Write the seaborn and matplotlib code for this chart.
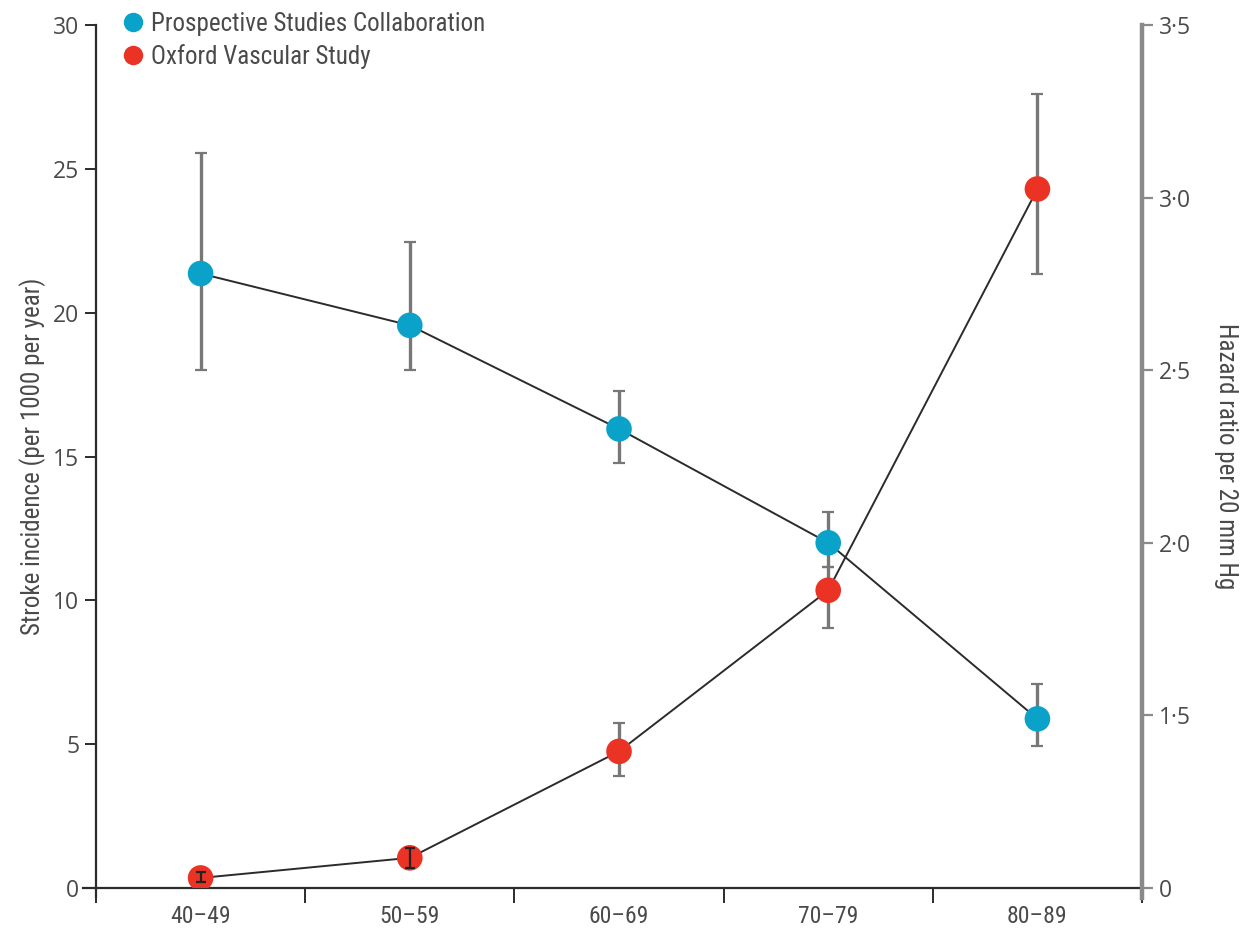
import matplotlib
matplotlib.use("Agg")
import matplotlib.pyplot as plt
from matplotlib import font_manager
from matplotlib.lines import Line2D
import numpy as np
import pandas as pd
import seaborn as sns

# ---- data ----
age_groups = ["40–49", "50–59", "60–69", "70–79", "80–89"]

# Prospective Studies Collaboration: hazard ratio per 20 mm Hg (right axis)
psc_hr = [2.78, 2.63, 2.33, 2.00, 1.49]
psc_lo = [2.50, 2.50, 2.23, 1.93, 1.41]
psc_hi = [3.13, 2.87, 2.44, 2.09, 1.59]

# Oxford Vascular Study: stroke incidence per 1000 per year (left axis)
oxv_inc = [0.35, 1.05, 4.75, 10.35, 24.3]
oxv_lo = [0.20, 0.70, 3.90, 9.05, 21.35]
oxv_hi = [0.57, 1.40, 5.75, 11.15, 27.6]

left_ticks = [0, 5, 10, 15, 20, 25, 30]
right_ticks = [1.0, 1.5, 2.0, 2.5, 3.0, 3.5]
right_tick_labels = ["0", "1·5", "2·0", "2·5", "3·0", "3·5"]

series_names = ["Prospective Studies Collaboration", "Oxford Vascular Study"]

# ---- style ----
sns.set_theme(style="white")


def pick_font(names):
    for n in names:
        try:
            font_manager.findfont(n, fallback_to_default=False)
            return n
        except Exception:
            continue
    return "DejaVu Sans"


narrow = pick_font(["Roboto Condensed", "Liberation Sans Narrow", "Open Sans", "DejaVu Sans"])
wide = pick_font(["Open Sans", "DejaVu Sans"])
plt.rcParams["font.family"] = [narrow, "DejaVu Sans"]

BLUE = "#0aa2c9"
RED = "#ea3324"
LINE = "#2b2b2b"
ERR = "#777777"
TXT = "#4a4a4a"

df_psc = pd.DataFrame({"pos": np.arange(len(age_groups)), "val": psc_hr,
                       "lo": psc_lo, "hi": psc_hi})
df_oxv = pd.DataFrame({"pos": np.arange(len(age_groups)), "val": oxv_inc,
                       "lo": oxv_lo, "hi": oxv_hi})

fig = plt.figure(figsize=(12.4, 9.33), dpi=100)
ax = fig.add_axes([0.0774, 0.0482, 0.8436, 0.9250])
ax2 = ax.twinx()


def draw_errors(a, d, small_limit):
    """Wide intervals sit behind the marker; very short ones are drawn on top."""
    big = d[(d["hi"] - d["lo"]) >= small_limit]
    small = d[(d["hi"] - d["lo"]) < small_limit]
    if len(big):
        a.errorbar(big["pos"], big["val"],
                   yerr=[big["val"] - big["lo"], big["hi"] - big["val"]],
                   fmt="none", ecolor=ERR, elinewidth=2.4, capsize=4,
                   capthick=1.6, zorder=2)
    if len(small):
        a.errorbar(small["pos"], small["val"],
                   yerr=[small["val"] - small["lo"], small["hi"] - small["val"]],
                   fmt="none", ecolor="#222222", elinewidth=1.6, capsize=3.5,
                   capthick=1.6, zorder=5)


# Oxford Vascular Study on the incidence axis
draw_errors(ax, df_oxv, 1.0)
sns.lineplot(data=df_oxv, x="pos", y="val", ax=ax, color=LINE, linewidth=1.4,
             zorder=3, legend=False)
sns.scatterplot(data=df_oxv, x="pos", y="val", ax=ax, color=RED, s=340,
                edgecolor="none", zorder=4, legend=False)

# Prospective Studies Collaboration on the hazard-ratio axis
draw_errors(ax2, df_psc, 0.0)
sns.lineplot(data=df_psc, x="pos", y="val", ax=ax2, color=LINE, linewidth=1.4,
             zorder=3, legend=False)
sns.scatterplot(data=df_psc, x="pos", y="val", ax=ax2, color=BLUE, s=340,
                edgecolor="none", zorder=4, legend=False)

# ---- axes ----
ax.set_xlim(-0.5, len(age_groups) - 0.5)
ax.set_ylim(0, 30)
ax2.set_ylim(1.0, 3.5)

ax.set_yticks(left_ticks)
ax.set_yticklabels([str(t) for t in left_ticks], fontfamily=[wide, "DejaVu Sans"])
ax2.set_yticks(right_ticks)
ax2.set_yticklabels(right_tick_labels, fontfamily=[wide, "DejaVu Sans"])

# age-group labels sit between the boundary ticks
ax.set_xticks(np.arange(-0.5, len(age_groups), 1.0))
ax.set_xticklabels([])
ax.set_xticks(np.arange(len(age_groups)), minor=True)
ax.set_xticklabels(age_groups, minor=True)
ax.tick_params(axis="x", which="minor", length=0, pad=12, labelsize=17, labelcolor=TXT)
ax.tick_params(axis="x", which="major", direction="out", length=11, width=1.4,
               color=LINE, bottom=True)

ax.tick_params(axis="y", direction="out", length=8, width=1.4, color=LINE,
               labelsize=16.5, labelcolor=TXT, pad=4, left=True)
ax2.tick_params(axis="y", direction="out", length=8, width=1.6, color="#8a8a8a",
                labelsize=16.5, labelcolor=TXT, pad=4, right=True)

ax.set_xlabel("")
ax.set_ylabel("Stroke incidence (per 1000 per year)", fontsize=18, color=TXT, labelpad=5)
ax2.set_xlabel("")
ax2.set_ylabel("Hazard ratio per 20 mm Hg", fontsize=18, color=TXT, rotation=270,
               labelpad=34)

for a in (ax, ax2):
    a.spines["top"].set_visible(False)
    a.grid(False)
ax.spines["right"].set_visible(False)
ax2.spines["left"].set_visible(False)
ax2.spines["bottom"].set_visible(False)

ax.spines["left"].set_color(LINE)
ax.spines["left"].set_linewidth(1.6)
ax.spines["left"].set_bounds(-0.3, 30)
ax.spines["bottom"].set_color(LINE)
ax.spines["bottom"].set_linewidth(1.6)
ax.spines["bottom"].set_bounds(-0.56, len(age_groups) - 0.5)
ax2.spines["right"].set_color("#8a8a8a")
ax2.spines["right"].set_linewidth(3.2)
ax2.spines["right"].set_bounds(0.97, 3.5)

# ---- legend ----
handles = [
    Line2D([], [], linestyle="none", marker="o", markersize=14,
           markerfacecolor=BLUE, markeredgecolor="none"),
    Line2D([], [], linestyle="none", marker="o", markersize=14,
           markerfacecolor=RED, markeredgecolor="none"),
]
leg = fig.legend(handles, series_names, loc="upper left",
                 bbox_to_anchor=(0.0995, 0.987), frameon=False, fontsize=18,
                 handlelength=0.8, handletextpad=0.3, labelspacing=0.3,
                 borderpad=0, borderaxespad=0)
for t in leg.get_texts():
    t.set_color(TXT)

fig.savefig("out.png", dpi=100)
